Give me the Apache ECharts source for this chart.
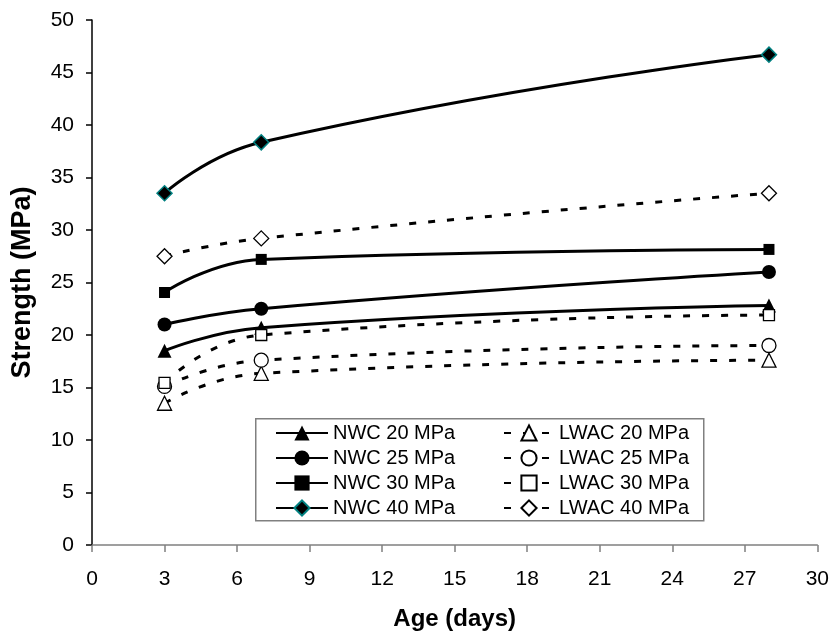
<!DOCTYPE html>
<html>
<head>
<meta charset="utf-8">
<script src="https://cdn.jsdelivr.net/npm/echarts@6/dist/echarts.min.js"></script>
<style>
html,body{margin:0;padding:0;background:#fff;}
#chart{width:832px;height:636px;}
</style>
</head>
<body>
<div id="chart"></div>
<script>
// Data
var ages = [3, 7, 28];
var nwc20 = [18.5, 20.7, 22.8];
var nwc25 = [21.0, 22.5, 26.0];
var nwc30 = [24.05, 27.2, 28.15];
var nwc40 = [33.5, 38.35, 46.7];
var lwac20 = [13.5, 16.35, 17.6];
var lwac25 = [15.1, 17.6, 19.0];
var lwac30 = [15.45, 20.0, 21.9];
var lwac40 = [27.5, 29.2, 33.5];
var nwcNames = ['NWC 20 MPa', 'NWC 25 MPa', 'NWC 30 MPa', 'NWC 40 MPa'];
var lwacNames = ['LWAC 20 MPa', 'LWAC 25 MPa', 'LWAC 30 MPa', 'LWAC 40 MPa'];
var xTicks = {min: 0, max: 30, interval: 3};
var yTicks = {min: 0, max: 50, interval: 5};

var FONT = 'Liberation Sans, Arial, Helvetica, sans-serif';

function pairs(vals) {
  return ages.map(function (a, i) { return [a, vals[i]]; });
}

var symbols = ['triangle', 'circle', 'rect', 'diamond'];
var sizes = [14, 14, 11, 15];
var nwcData = [nwc20, nwc25, nwc30, nwc40];
var lwacData = [lwac20, lwac25, lwac30, lwac40];

var series = [];
nwcData.forEach(function (vals, i) {
  series.push({
    name: nwcNames[i],
    type: 'line',
    data: pairs(vals),
    smooth: 0.5,
    symbol: symbols[i],
    symbolSize: sizes[i],
    showAllSymbol: true,
    lineStyle: {color: '#000', width: 3},
    itemStyle: {
      color: '#000',
      borderColor: i === 3 ? '#008080' : '#000',
      borderWidth: i === 3 ? 1.5 : 0
    },
    emphasis: {disabled: true},
    z: 2
  });
});
lwacData.forEach(function (vals, i) {
  series.push({
    name: lwacNames[i],
    type: 'line',
    data: pairs(vals),
    smooth: 0.5,
    symbol: symbols[i],
    symbolSize: sizes[i],
    showAllSymbol: true,
    lineStyle: {color: '#000', width: 3, type: [7, 12]},
    itemStyle: {color: '#fff', borderColor: '#000', borderWidth: 1.3},
    emphasis: {disabled: true},
    z: 3
  });
});

var chart = echarts.init(document.getElementById('chart'), null, {renderer: 'canvas'});
chart.setOption({
  animation: false,
  backgroundColor: '#fff',
  grid: {left: 92, right: 14, top: 20, bottom: 91, containLabel: false},
  xAxis: {
    type: 'value',
    min: xTicks.min, max: xTicks.max, interval: xTicks.interval,
    name: 'Age (days)',
    nameLocation: 'middle',
    nameGap: 62,
    nameTextStyle: {fontFamily: FONT, fontSize: 24, fontWeight: 'bold', color: '#000'},
    axisLine: {onZero: false, lineStyle: {color: '#808080', width: 1.5}},
    axisTick: {show: true, length: 7, lineStyle: {color: '#808080', width: 1.5}},
    axisLabel: {fontFamily: FONT, fontSize: 21, color: '#000', margin: 24},
    splitLine: {show: false}
  },
  yAxis: {
    type: 'value',
    min: yTicks.min, max: yTicks.max, interval: yTicks.interval,
    name: 'Strength (MPa)',
    nameLocation: 'middle',
    nameGap: 56,
    nameTextStyle: {fontFamily: FONT, fontSize: 27, fontWeight: 'bold', color: '#000'},
    axisLine: {show: true, lineStyle: {color: '#000', width: 1.5}},
    axisTick: {show: true, length: 6, lineStyle: {color: '#000', width: 1.5}},
    axisLabel: {fontFamily: FONT, fontSize: 21, color: '#000', margin: 18},
    splitLine: {show: false}
  },
  legend: [
    {
      data: nwcNames,
      orient: 'vertical',
      left: 275, top: 423,
      padding: 0,
      itemWidth: 52, itemHeight: 19,
      itemGap: 5, itemTextGap: 8,
      textStyle: {fontFamily: FONT, fontSize: 20, color: '#000'},
      selectedMode: false
    },
    {
      data: lwacNames,
      orient: 'vertical',
      left: 503, top: 423,
      padding: 0,
      itemWidth: 50, itemHeight: 19,
      itemGap: 5, itemTextGap: 9,
      textStyle: {fontFamily: FONT, fontSize: 20, color: '#000'},
      selectedMode: false
    }
  ],
  graphic: [{
    type: 'rect',
    left: 255, top: 418,
    shape: {width: 448, height: 102},
    style: {fill: '#fff', stroke: '#808080', lineWidth: 1.5},
    z: 0, zlevel: 0, silent: true
  }],
  series: series
});
</script>
</body>
</html>
